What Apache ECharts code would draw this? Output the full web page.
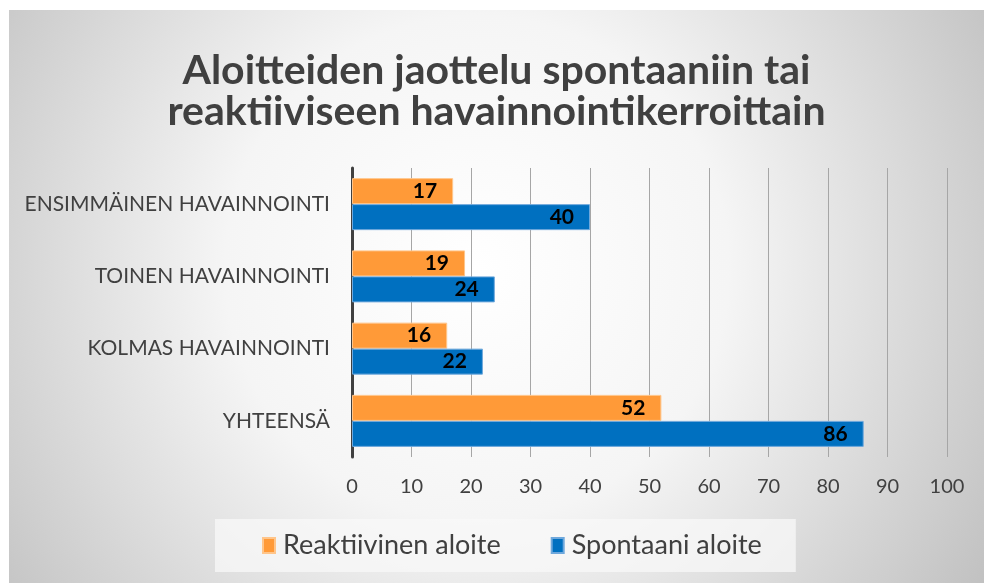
<!DOCTYPE html>
<html>
<head>
<meta charset="utf-8">
<script src="https://cdn.jsdelivr.net/npm/echarts@6/dist/echarts.min.js"></script>
<style>
  html, body { margin: 0; padding: 0; background: #ffffff; }
  #main { position: absolute; left: 9px; top: 10px; width: 975px; height: 573px; }
</style>
</head>
<body>
<div id="main"></div>
<script>
// havainnointikerrat (ylhäältä alas)
var categories = ['ENSIMMÄINEN HAVAINNOINTI', 'TOINEN HAVAINNOINTI', 'KOLMAS HAVAINNOINTI', 'YHTEENSÄ']
var reaktiivinen = [17, 19, 16, 52]
var spontaani = [40, 24, 22, 86]
var seriesNames = ['Reaktiivinen aloite', 'Spontaani aloite']

var textColor = '#404040' //tekstien väri
var fontFamily = 'Lato, "DejaVu Sans", sans-serif'

var myChart = echarts.init(document.getElementById('main'))

function barLabel() {
  return {
    show: true,
    position: 'insideRight',
    distance: 16,
    color: '#000000',
    fontWeight: 'bold',
    fontSize: 21,
    fontFamily: fontFamily
  }
}

myChart.setOption({
  //taustan säteittäinen liukuväri
  backgroundColor: {
    type: 'radial',
    x: 0.48,
    y: 0.45,
    r: 1.1,
    colorStops: [
      { offset: 0, color: '#ffffff' },
      { offset: 0.4, color: '#f5f5f5' },
      { offset: 1, color: '#bcbcbc' }
    ]
  },
  animation: false,
  title: {
    text: 'Aloitteiden jaottelu spontaaniin tai\nreaktiiviseen havainnointikerroittain',
    left: 'center',
    top: 35,
    textStyle: {
      color: textColor,
      fontFamily: fontFamily,
      fontWeight: 'bold',
      fontSize: 41,
      lineHeight: 41
    }
  },
  legend: {
    data: seriesNames,
    left: 206,
    top: 509,
    padding: [13, 34, 13, 47],
    backgroundColor: 'rgba(248,248,248,0.75)',
    itemWidth: 12,
    itemHeight: 15,
    itemGap: 50,
    icon: 'rect',
    textStyle: {
      color: textColor,
      fontFamily: fontFamily,
      fontSize: 27,
      padding: [0, 0, 0, 3]
    }
  },
  grid: {
    left: 343,
    right: 37,
    top: 158,
    bottom: 126,
    containLabel: false
  },
  xAxis: {
    type: 'value',
    min: 0,
    max: 100,
    interval: 10,
    axisLine: { show: false },
    axisTick: { show: false },
    axisLabel: {
      color: textColor,
      fontFamily: fontFamily,
      fontSize: 20,
      margin: 20
    },
    splitLine: {
      show: true,
      lineStyle: { color: '#a6a6a6', width: 1 }
    }
  },
  yAxis: {
    type: 'category',
    data: categories,
    inverse: true,
    axisLine: {
      show: true,
      lineStyle: { color: '#404040', width: 3 }
    },
    axisTick: { show: false },
    axisLabel: {
      color: textColor,
      fontFamily: fontFamily,
      fontSize: 21,
      margin: 22
    }
  },
  series: [{
    type: 'bar',
    name: seriesNames[0],
    data: reaktiivinen,
    barWidth: 26,
    barGap: '0%',
    itemStyle: { color: '#ff9a38', borderColor: '#ffc58a', borderWidth: 1 },
    label: barLabel()
  }, {
    type: 'bar',
    name: seriesNames[1],
    data: spontaani,
    barWidth: 26,
    barGap: '0%',
    itemStyle: { color: '#0070c0', borderColor: '#6fa8dc', borderWidth: 1 },
    label: barLabel()
  }]
})
</script>
</body>
</html>
